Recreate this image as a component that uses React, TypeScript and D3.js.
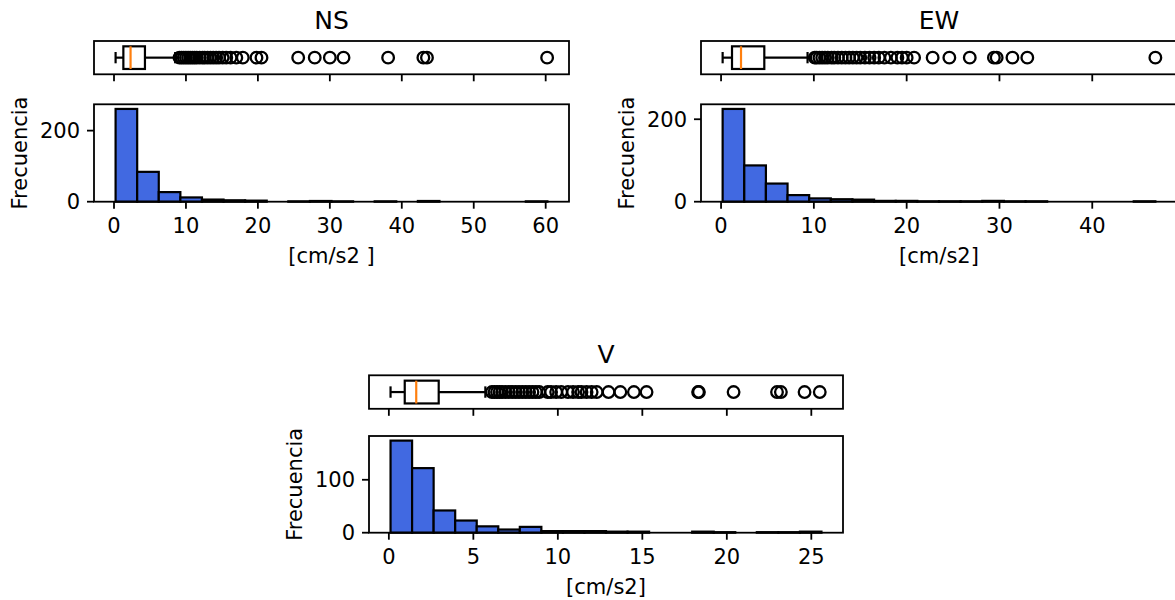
import React from 'react';
import * as d3 from 'd3';

// histogram counts (20 equal bins) and bin range
const nsCounts = [261, 84, 27, 12, 6, 4, 3, 0, 1, 2, 1, 0, 1, 0, 2, 0, 0, 0, 0, 1];
const nsRange = [0.22, 60.24];
const ewCounts = [225, 88, 44, 16, 8, 6, 5, 2, 2, 1, 1, 1, 2, 1, 1, 0, 0, 0, 0, 1];
const ewRange = [0.17, 46.8];
const vCounts = [174, 122, 42, 23, 12, 6, 11, 3, 3, 3, 2, 2, 0, 0, 2, 1, 0, 1, 1, 2];
const vRange = [0.1, 25.6];

// boxplot: [whisker low, q1, median, q3, whisker high]
const nsBox = [0.22, 1.3, 2.3, 4.3, 8.5];
const ewBox = [0.17, 1.18, 2.15, 4.66, 9.32];
const vBox = [0.1, 0.94, 1.62, 2.95, 5.71];

const nsOutliers = [9.1, 9.4, 9.7, 10.0, 10.3, 10.6, 10.9, 11.2, 11.5, 11.9, 12.3, 12.6, 13.0, 13.4, 13.8, 14.2, 14.6, 15.1, 15.6, 16.2, 17.0, 17.9, 19.8, 20.5, 25.6, 27.9, 30.0, 31.9, 38.1, 43.0, 43.5, 60.2];
const ewOutliers = [10.1, 10.3, 10.6, 10.9, 11.2, 11.5, 11.9, 12.2, 12.6, 13.0, 13.4, 13.8, 14.2, 14.6, 15.0, 15.5, 16.0, 16.5, 17.0, 17.6, 18.3, 19.0, 19.5, 20.0, 20.8, 22.8, 24.6, 26.8, 29.4, 29.7, 31.4, 33.0, 46.8];
const vOutliers = [6.1, 6.25, 6.4, 6.55, 6.7, 6.9, 7.1, 7.3, 7.5, 7.7, 7.9, 8.1, 8.3, 8.5, 8.7, 8.9, 9.4, 9.6, 9.9, 10.2, 10.6, 10.9, 11.2, 11.4, 11.7, 12.0, 12.3, 13.0, 13.7, 14.5, 15.25, 18.3, 18.35, 20.4, 22.97, 23.2, 24.6, 25.5];

// tick labels
const nsXTicks = [0, 10, 20, 30, 40, 50, 60];
const ewXTicks = [0, 10, 20, 30, 40];
const vXTicks = [0, 5, 10, 15, 20, 25];
const nsYTicks = [0, 200];
const ewYTicks = [0, 200];
const vYTicks = [0, 100];

const FONT = '"DejaVu Sans", sans-serif';
const FS = 21; // tick / label font size
const BAR = '#4169e1';
const MEDIAN = '#ff7f0e';

type PanelProps = {
  title: string;
  counts: number[];
  binRange: number[];
  box: number[];
  outliers: number[];
  xTicks: number[];
  yTicks: number[];
  xLabel: string;
  left: number;
  right: number;
  boxTop: number;
  boxBottom: number;
  histTop: number;
  histBottom: number;
};

const Panel = (p: PanelProps) => {
  const n = p.counts.length;
  const span = p.binRange[1] - p.binRange[0];
  const x = d3.scaleLinear()
    .domain([p.binRange[0] - 0.05 * span, p.binRange[1] + 0.05 * span])
    .range([p.left, p.right]);
  const y = d3.scaleLinear()
    .domain([0, (d3.max(p.counts) as number) * 1.05])
    .range([p.histBottom, p.histTop]);
  // bin index -> value
  const edge = d3.scaleLinear().domain([0, n]).range(p.binRange);

  const cy = (p.boxTop + p.boxBottom) / 2;
  const bh = (p.boxBottom - p.boxTop) * 0.68;
  const cap = bh / 4;
  const [wlo, q1, med, q3, whi] = p.box;

  const maxLen = d3.max(p.yTicks, (t) => String(t).length) as number;
  const yLabX = p.left - 14 - maxLen * 0.636 * FS - 8 - 0.23 * FS;
  const histMid = (p.histTop + p.histBottom) / 2;

  return (
    <g fontFamily={FONT} fill="#000">
      <text x={(p.left + p.right) / 2} y={p.boxTop - 12} textAnchor="middle" fontSize={25}>{p.title}</text>

      {/* boxplot */}
      <g stroke="#000" strokeWidth={2.2} fill="none">
        <line x1={x(wlo)} x2={x(q1)} y1={cy} y2={cy} />
        <line x1={x(q3)} x2={x(whi)} y1={cy} y2={cy} />
        <line x1={x(wlo)} x2={x(wlo)} y1={cy - cap} y2={cy + cap} />
        <line x1={x(whi)} x2={x(whi)} y1={cy - cap} y2={cy + cap} />
        <rect x={x(q1)} y={cy - bh / 2} width={x(q3) - x(q1)} height={bh} />
        {p.outliers.map((o, i) => (
          <circle key={i} cx={x(o)} cy={cy} r={5.8} strokeWidth={2.3} />
        ))}
      </g>
      <line x1={x(med)} x2={x(med)} y1={cy - bh / 2} y2={cy + bh / 2} stroke={MEDIAN} strokeWidth={2.2} />
      <rect x={p.left} y={p.boxTop} width={p.right - p.left} height={p.boxBottom - p.boxTop} fill="none" stroke="#000" strokeWidth={1.8} />
      {p.xTicks.map((t) => (
        <line key={t} x1={x(t)} x2={x(t)} y1={p.boxBottom} y2={p.boxBottom + 7} stroke="#000" strokeWidth={1.8} />
      ))}

      {/* histogram */}
      {p.counts.map((c, i) => (
        <rect key={i}
          x={x(edge(i))} width={x(edge(i + 1)) - x(edge(i))}
          y={y(c)} height={y(0) - y(c)}
          fill={BAR} stroke="#000" strokeWidth={2.2} />
      ))}
      <rect x={p.left} y={p.histTop} width={p.right - p.left} height={p.histBottom - p.histTop} fill="none" stroke="#000" strokeWidth={1.8} />
      {p.xTicks.map((t) => (
        <g key={t}>
          <line x1={x(t)} x2={x(t)} y1={p.histBottom} y2={p.histBottom + 7} stroke="#000" strokeWidth={1.8} />
          <text x={x(t)} y={p.histBottom + 15 + 0.76 * FS} textAnchor="middle" fontSize={FS}>{t}</text>
        </g>
      ))}
      {p.yTicks.map((t) => (
        <g key={t}>
          <line x1={p.left} x2={p.left - 7} y1={y(t)} y2={y(t)} stroke="#000" strokeWidth={1.8} />
          <text x={p.left - 14} y={y(t)} dy="0.36em" textAnchor="end" fontSize={FS}>{t}</text>
        </g>
      ))}
      <text x={(p.left + p.right) / 2} y={p.histBottom + 17 + 0.99 * FS + 8 + 0.76 * FS} textAnchor="middle" fontSize={FS}>{p.xLabel}</text>
      <text transform={`translate(${yLabX},${histMid}) rotate(-90)`} textAnchor="middle" fontSize={FS}>Frecuencia</text>
    </g>
  );
};

const App = () => {
  return (
    <svg width={1175} height={600} style={{ position: 'absolute', left: 0, top: 0, background: '#fff' }}>
      <rect width={1175} height={600} fill="#fff" />
      <Panel title="NS" counts={nsCounts} binRange={nsRange} box={nsBox} outliers={nsOutliers}
        xTicks={nsXTicks} yTicks={nsYTicks} xLabel="[cm/s2 ]"
        left={94} right={569} boxTop={41} boxBottom={74.3} histTop={104.3} histBottom={201.7} />
      <Panel title="EW" counts={ewCounts} binRange={ewRange} box={ewBox} outliers={ewOutliers}
        xTicks={ewXTicks} yTicks={ewYTicks} xLabel="[cm/s2]"
        left={701} right={1177} boxTop={41} boxBottom={74.3} histTop={104.3} histBottom={201.7} />
      <Panel title="V" counts={vCounts} binRange={vRange} box={vBox} outliers={vOutliers}
        xTicks={vXTicks} yTicks={vYTicks} xLabel="[cm/s2]"
        left={369} right={843} boxTop={375.3} boxBottom={408.8} histTop={436} histBottom={532.7} />
    </svg>
  );
};

export default App;
